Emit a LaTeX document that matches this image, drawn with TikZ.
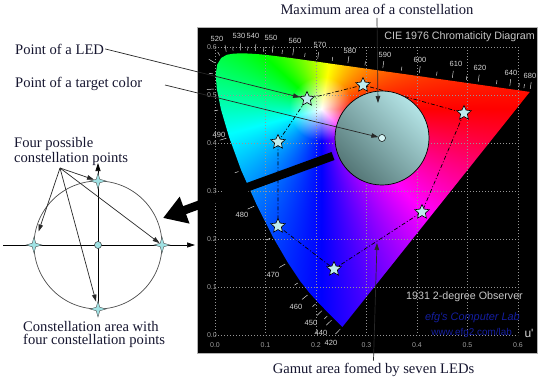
\documentclass[tikz,border=0pt]{standalone}
\usepackage{fontspec}
\setmainfont{Liberation Serif}
\newfontfamily\arialf{Liberation Sans}
\usetikzlibrary{shapes.geometric,arrows.meta,calc}
\definecolor{labelc}{RGB}{22,22,48}
\definecolor{conn}{RGB}{40,40,40}
\definecolor{starfill}{RGB}{190,236,238}
\definecolor{sparkfill}{RGB}{160,226,228}
\definecolor{gridc}{RGB}{150,150,150}
\definecolor{tickc}{RGB}{215,215,215}
\definecolor{axc}{RGB}{160,160,160}
\definecolor{efgblue}{RGB}{20,30,160}
\definecolor{circtop}{RGB}{180,228,230}
\definecolor{circbot}{RGB}{84,118,118}
\definecolor{tgtfill}{RGB}{215,245,245}
\pgfdeclarefunctionalshading{gamut}{\pgfpoint{0bp}{0bp}}{\pgfpoint{100bp}{100bp}}{}{
 25 sub 5.76 mul 226.3 sub
 exch 25 sub 6.4 mul 108.3 sub
 2 copy dup mul exch dup mul add sqrt
 3 1 roll
 atan
 exch 32 div dup 1 gt {pop 1} if exch
 dup 80 lt {0.75 mul} {dup 195 lt {80 sub 1.0435 mul 60 add} {dup 270 lt {195 sub 0.8 mul 180 add} {270 sub 1.3333 mul 240 add} ifelse} ifelse} ifelse
 60 div
 dup 3 sub abs 1 sub dup 0 lt {pop 0} if dup 1 gt {pop 1} if
 exch
 dup 2 sub abs 2 exch sub dup 0 lt {pop 0} if dup 1 gt {pop 1} if
 exch
 4 sub abs 2 exch sub dup 0 lt {pop 0} if dup 1 gt {pop 1} if
 3 index mul 1 4 index sub add
 3 1 roll
 3 index mul 1 4 index sub add
 3 1 roll
 3 index mul 1 4 index sub add
 3 1 roll
 4 -1 roll pop
}
\begin{document}
\begin{tikzpicture}[x=1pt,y=-1pt,
  lbl/.style={font=\fontsize{14.6}{15}\selectfont,text=labelc,inner sep=0pt},
  conline/.style={draw=conn,line width=0.7pt,-{Triangle[length=7pt,width=4.5pt]}},
  ledstar/.style={star,star points=5,star point ratio=2.1,minimum size=15pt,inner sep=0pt,draw=black,line width=0.6pt,fill=starfill},
  spark/.style={star,star points=4,star point ratio=3.2,minimum size=16pt,inner sep=0pt,draw=black!70,line width=0.4pt,fill=sparkfill},
  gridln/.style={draw=gridc,line width=0.5pt,dash pattern=on 1.2pt off 1.8pt},
  wtick/.style={draw=tickc,line width=0.5pt},
  wlab/.style={font=\arialf\fontsize{7.5}{8}\selectfont,text=tickc,inner sep=0pt},
  axlab/.style={font=\arialf\fontsize{7}{8}\selectfont,text=axc,inner sep=0pt},
  polyln/.style={draw=black,line width=0.7pt,dash pattern=on 4pt off 2pt on 1pt off 2pt},
  axisarrow/.style={draw=black,line width=0.7pt,-{Triangle[length=8pt,width=5pt]}},
  infotxt/.style={font=\arialf\fontsize{10.7}{12}\selectfont,text={rgb,255:red,200;green,200;blue,200},inner sep=0pt}
]
\useasboundingbox (0,0) rectangle (550,378);
\fill[white] (0,0) rectangle (550,378);
% panel
\draw[fill=black,draw=gray!60,line width=0.6pt] (197,27) rectangle (537,353);
% spectral locus points
\coordinate (w420) at (342.4,326.9);
\coordinate (w440) at (333.5,318.2);
\coordinate (w445) at (329.4,314.0);
\coordinate (w450) at (324.1,308.6);
\coordinate (w455) at (317.7,302.0);
\coordinate (w460) at (309.8,293.2);
\coordinate (w465) at (300.3,281.3);
\coordinate (w470) at (287.8,262.5);
\coordinate (w475) at (272.9,236.9);
\coordinate (w480) at (256.8,205.0);
\coordinate (w485) at (241.3,170.5);
\coordinate (w490) at (229.2,137.4);
\coordinate (w495) at (221.0,109.5);
\coordinate (w500) at (216.8,88.8);
\coordinate (w505) at (215.7,74.3);
\coordinate (w510) at (217.3,64.4);
\coordinate (w515) at (221.2,58.0);
\coordinate (w520) at (226.7,54.8);
\coordinate (w525) at (233.2,53.7);
\coordinate (w530) at (240.3,53.3);
\coordinate (w535) at (247.5,53.5);
\coordinate (w540) at (255.0,53.9);
\coordinate (w545) at (263.1,54.6);
\coordinate (w550) at (271.9,55.6);
\coordinate (w555) at (281.6,56.8);
\coordinate (w560) at (292.3,58.2);
\coordinate (w565) at (304.2,59.9);
\coordinate (w570) at (317.3,61.7);
\coordinate (w575) at (331.8,63.8);
\coordinate (w580) at (347.5,66.0);
\coordinate (w585) at (364.5,68.4);
\coordinate (w590) at (382.4,71.0);
\coordinate (w595) at (400.9,73.6);
\coordinate (w600) at (418.8,76.1);
\coordinate (w605) at (436.1,78.6);
\coordinate (w610) at (451.9,80.8);
\coordinate (w615) at (465.9,82.8);
\coordinate (w620) at (477.8,84.5);
\coordinate (w630) at (496.0,87.1);
\coordinate (w640) at (509.4,89.0);
\coordinate (w650) at (518.3,90.2);
\coordinate (w660) at (523.5,91.0);
\coordinate (w700) at (529.8,91.9);
% gamut colours
\begin{scope}
\clip (w420) -- (w440) -- (w445) -- (w450) -- (w455) -- (w460) -- (w465) -- (w470) -- (w475) -- (w480) -- (w485) -- (w490) -- (w495) -- (w500) -- (w505) -- (w510) -- (w515) -- (w520) -- (w525) -- (w530) -- (w535) -- (w540) -- (w545) -- (w550) -- (w555) -- (w560) -- (w565) -- (w570) -- (w575) -- (w580) -- (w585) -- (w590) -- (w595) -- (w600) -- (w605) -- (w610) -- (w615) -- (w620) -- (w630) -- (w640) -- (w650) -- (w660) -- (w700) -- cycle;
\shade[shading=gamut] (213,335) rectangle (533,47);
\end{scope}
% grid and axis labels
\foreach \k in {0,...,6} {
  \draw[gridln] ({215+50.5*\k},47) -- ({215+50.5*\k},335);
  \draw[gridln] (215,{335-48*\k}) -- (518,{335-48*\k});
  \node[axlab] at ({215+50.5*\k},345) {0.\k};
  \node[axlab,anchor=east] at (217,{335-48*\k}) {0.\k};
}
% wavelength ticks
\foreach \a/\b/\e in {420/440/10pt,440/445/10pt,445/450/7pt,450/455/10pt,455/460/7pt,460/465/10pt,465/470/7pt,470/475/10pt,475/480/7pt,480/485/10pt,485/490/7pt,490/495/10pt,495/500/7pt,500/505/10pt,505/510/7pt,510/515/10pt,515/520/7pt,520/525/10pt,525/530/7pt,530/535/10pt,535/540/7pt,540/545/10pt,545/550/7pt,550/555/10pt,555/560/7pt,560/565/10pt,565/570/7pt,570/575/10pt,575/580/7pt,580/585/10pt,585/590/7pt,590/595/10pt,595/600/7pt,600/605/10pt,605/610/7pt,610/615/10pt,615/620/7pt,620/630/10pt,630/640/7pt,640/650/10pt,650/660/7pt,660/700/7pt}
  \draw[wtick] ($(w\a)!3pt!90:(w\b)$) -- ($(w\a)!\e!90:(w\b)$);
\draw[wtick] ($(w700)!3pt!-90:(w660)$) -- ($(w700)!10pt!-90:(w660)$);
% wavelength labels
\node[wlab] (l520) at (217,39) {520};
\node[wlab] (l530) at (239,36) {530};
\node[wlab] (l540) at (253,36) {540};
\node[wlab] (l550) at (271,38) {550};
\node[wlab] (l560) at (295,41) {560};
\node[wlab] (l570) at (320,45) {570};
\node[wlab] (l580) at (350,51) {580};
\node[wlab] (l590) at (385,55) {590};
\node[wlab] (l600) at (420,60) {600};
\node[wlab] (l610) at (456,64) {610};
\node[wlab] (l620) at (480,68) {620};
\node[wlab] (l640) at (511,73) {640};
\node[wlab] (l680) at (530,76) {680};
\node[wlab] (l490) at (219,135) {490};
\node[wlab] (l480) at (242,215) {480};
\node[wlab] (l470) at (273,275) {470};
\node[wlab] (l460) at (296,307) {460};
\node[wlab] (l450) at (311,323) {450};
\node[wlab] (l440) at (321,333) {440};
\node[wlab] (l420) at (331,343) {420};
% info texts
\node[infotxt,anchor=east] (title) at (535,37) {CIE 1976 Chromaticity Diagram};
\node[infotxt,anchor=east] (obs) at (523,297) {1931 2-degree Observer};
\node[font=\arialf\itshape\fontsize{10.9}{12}\selectfont,text=efgblue,anchor=east,inner sep=0pt] (efg) at (520,318) {efg's Computer Lab};
\node[font=\arialf\fontsize{9.9}{12}\selectfont,text=efgblue,anchor=east,inner sep=0pt] (www) at (512,333) {www.efg2.com/lab};
\node[font=\arialf\fontsize{12}{12}\selectfont,text=tickc,inner sep=0pt] (uax) at (529,333) {u'};
% LED points and gamut polygon
\coordinate (s1) at (307,99);
\coordinate (s2) at (363,85);
\coordinate (s3) at (464,113);
\coordinate (s4) at (278,142);
\coordinate (s5) at (278,226);
\coordinate (s6) at (334,269);
\coordinate (s7) at (422,212);
\draw[polyln] (s4) -- (s1) -- (s2) -- (s3) -- (s7) -- (s6) -- (s5) -- cycle;
% maximum constellation area
\node[circle,minimum size=94pt,inner sep=0pt,draw=black,line width=0.7pt,top color=circtop,bottom color=circbot,shading angle=-45] (maxc) at (382,138) {};
\node[circle,minimum size=7pt,inner sep=0pt,draw=black,line width=0.5pt,fill=tgtfill] (tgt) at (382,138) {};
\foreach \i in {1,...,7} \node[ledstar] (st\i) at (s\i) {};
% big black arrow
\coordinate (bat) at (333,156);
\coordinate (bah) at (163,218);
\draw[black,line width=8.5pt,-{Triangle[length=23pt,width=27pt]}] (bat) -- (bah);
% left diagram
\node[circle,minimum size=128pt,inner sep=0pt,draw=black!70,line width=0.7pt] (cc) at (98,245) {};
\coordinate (hx0) at (3,245);
\coordinate (hx1) at (195,245);
\coordinate (vb) at (98,309);
\coordinate (vt) at (98,163);
\draw[axisarrow] (hx0) -- (hx1);
\draw[axisarrow] (vb) -- (vt);
\node[spark] (spl) at (34,245) {};
\node[spark] (spt) at (98,181) {};
\node[spark] (spr) at (162,245) {};
\node[spark] (spb) at (98,309) {};
\node[circle,minimum size=7pt,inner sep=0pt,draw=black!80,line width=0.5pt,fill=sparkfill] (cen) at (98,245) {};
% labels
\node[lbl,anchor=base west] (led) at (15,54) {Point of a LED};
\node[lbl,anchor=base west] (tcol) at (15,87) {Point of a target color};
\node[lbl,anchor=base,inner ysep=3pt] (maxa) at (377,14.5) {Maximum area of a constellation};
\node[lbl,anchor=base,inner ysep=2pt] (gam) at (373.5,373) {Gamut area fomed by seven LEDs};
\node[lbl,anchor=north west,align=left] (four) at (14,137) {Four possible\\constellation points};
\node[lbl,anchor=north west,align=left,font=\fontsize{14.6}{13.4}\selectfont] (carea) at (23,321) {Constellation area with\\four constellation points};
% connectors
\coordinate (tcs) at (165,85);
\coordinate (maxtip) at (378,103);
\coordinate (gamtip) at (377,243);
\coordinate (fp) at (60,168);
\draw[conline] ([xshift=1pt]led.east) -- (st1);
\draw[conline] (tcs) -- (tgt);
\draw[conline] (maxa.south) -- (maxtip);
\draw[conline] (gam.north) -- (gamtip);
\draw[conline,shorten >=10pt] (fp) -- (spl);
\draw[conline] (fp) -- (spt);
\draw[conline] (fp) -- (spr);
\draw[conline,shorten >=3pt] (fp) -- (spb);
\end{tikzpicture}
\end{document}
